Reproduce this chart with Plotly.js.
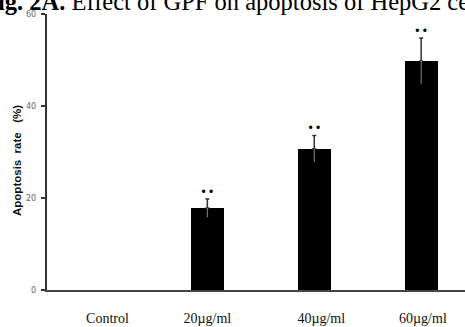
<!DOCTYPE html>
<html><head><meta charset="utf-8">
<script src="https://cdn.plot.ly/plotly-3.0.1.min.js"></script>
<style>html,body{margin:0;padding:0;background:#fff}#chart{width:465px;height:327px}</style>
</head><body><div id="chart"></div>
<script>
const categories = ["Control", "20\u00b5g/ml", "40\u00b5g/ml", "60\u00b5g/ml"];
const apoptosisRate = [0, 17.8, 30.7, 49.8];
const errorSD = [0, 2.0, 2.9, 5.0];
const significance = ["", "\u2022 \u2022", "\u2022 \u2022", "\u2022 \u2022"];
const yTicks = [0, 20, 40, 60];
const yTitle = "Apoptosis\u00a0\u00a0rate\u00a0\u00a0\u00a0(%)";
const titleBold = "Fig. 2A.";
const titleRest = " Effect of GPF on apoptosis of HepG2 cells";

const NB = "\u00a0";
const labelPad = [4, 0, 4, 1];
const tickLabels = categories.map((c, i) => NB.repeat(labelPad[i]) + c);
const treated = errorSD.map((e, i) => i).filter(i => errorSD[i] > 0);
const tx = treated.map(i => categories[i]);
const ty = treated.map(i => apoptosisRate[i]);
const te = treated.map(i => errorSD[i]);
const tz = treated.map(() => 0);
const errTop = apoptosisRate.map((v, i) => v + errorSD[i]);

const traces = [
  {
    type: "bar", x: categories, y: apoptosisRate, width: 0.31,
    marker: {color: "#000", line: {width: 0}},
    hoverinfo: "skip", showlegend: false
  },
  {
    type: "scatter", mode: "markers", x: tx, y: ty,
    marker: {size: 0.1, color: "rgba(0,0,0,0)"},
    error_y: {type: "data", symmetric: false, array: te, arrayminus: tz,
              color: "#333", thickness: 1.5, width: 2},
    hoverinfo: "skip", showlegend: false
  },
  {
    type: "scatter", mode: "markers", x: tx, y: ty,
    marker: {size: 0.1, color: "rgba(0,0,0,0)"},
    error_y: {type: "data", symmetric: false, array: tz, arrayminus: te,
              color: "#888", thickness: 1, width: 0},
    hoverinfo: "skip", showlegend: false
  },
  {
    type: "scatter", mode: "text", x: categories, y: errTop, text: significance,
    textposition: "top center", textfont: {family: "Arial, Liberation Sans", size: 12, color: "#000"},
    cliponaxis: false, hoverinfo: "skip", showlegend: false
  }
];

const layout = {
  width: 465, height: 327,
  margin: {l: 47, r: 0, t: 14, b: 37},
  paper_bgcolor: "#fff", plot_bgcolor: "#fff",
  showlegend: false,
  bargap: 0,
  xaxis: {
    type: "category", range: [-0.5, 3.41],
    tickvals: categories, ticktext: tickLabels,
    showline: true, linecolor: "#444", linewidth: 1.5,
    showgrid: false, zeroline: false, ticks: "",
    tickfont: {family: "Liberation Serif, Times New Roman, serif", size: 14, color: "#111"},
    ticklabelstandoff: 15
  },
  yaxis: {
    range: [0, 60], tickvals: yTicks, ticktext: yTicks.map(String),
    showline: true, linecolor: "#333", linewidth: 2,
    showgrid: false, zeroline: false,
    ticks: "outside", ticklen: 4, tickwidth: 1.5, tickcolor: "#333",
    tickfont: {family: "DejaVu Sans Condensed, Liberation Sans Narrow, sans-serif", size: 9, color: "#666"},
    ticklabelstandoff: 3
  },
  annotations: [
    {
      xref: "paper", yref: "paper", x: (-19.5 - 47) / 418, y: 1 + 13 / 276,
      xanchor: "left", yanchor: "middle", showarrow: false,
      text: "<b>" + titleBold + "</b>" + titleRest,
      font: {family: "Liberation Serif, Times New Roman, serif", size: 24.5, color: "#000"}
    },
    {
      xref: "paper", yref: "paper", x: (17 - 47) / 418, y: (290 - 161) / 276,
      xanchor: "center", yanchor: "middle", showarrow: false, textangle: -90,
      text: "<b>" + yTitle + "</b>",
      font: {family: "Liberation Sans, Arial, sans-serif", size: 11.5, color: "#111"}
    }
  ]
};

Plotly.newPlot("chart", traces, layout, {staticPlot: true, displayModeBar: false});
</script></body></html>
